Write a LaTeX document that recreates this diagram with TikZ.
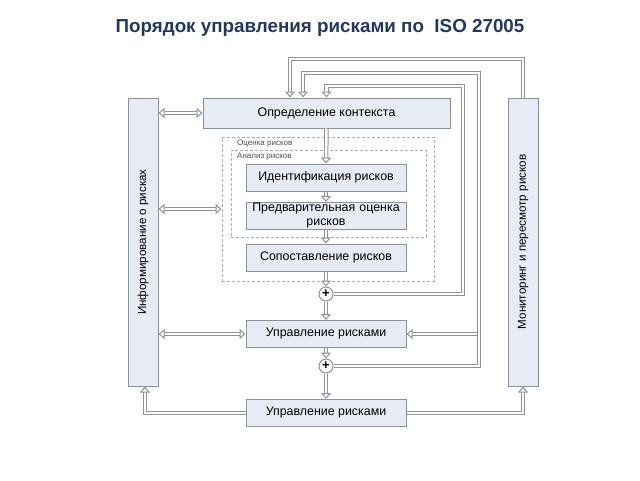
\documentclass[tikz,border=0pt]{standalone}
\usepackage{fontspec}
\setmainfont{Liberation Sans}
\usepackage{xcolor}
\usetikzlibrary{arrows.meta,positioning}

\definecolor{boxfill}{RGB}{231,235,244}
\definecolor{boxline}{RGB}{140,146,158}
\definecolor{titleblue}{RGB}{31,56,100}

\begin{document}
\begin{tikzpicture}[
        x=1pt, y=-1pt,
        font=\fontsize{12.4}{13}\selectfont,
        stage/.style={draw=boxline, fill=boxfill, line width=1pt, align=center, minimum width=160pt, minimum height=27pt, inner sep=1pt},
        side/.style={draw=boxline, fill=boxfill, line width=1pt, minimum width=30pt, minimum height=288pt, inner sep=0pt, font=\fontsize{11.6}{12}\selectfont},
        zone/.style={draw=boxline!75, line width=1pt, dashed, dash pattern=on 3pt off 2pt},
        zonelabel/.style={font=\fontsize{8}{9}\selectfont, text=black!70, anchor=west, inner sep=0pt},
        junction/.style={circle, draw=boxline, fill=white, line width=1pt, minimum size=14pt, inner sep=0pt, font=\bfseries\fontsize{13}{13}\selectfont},
        pipe/.style={draw=boxline, double=white, double distance=2.5pt, line width=1pt},
        harrow/.style={pipe, -{Triangle[open, fill=white, length=6pt, width=10pt]}},
        darrow/.style={pipe, {Triangle[open, fill=white, length=6pt, width=10pt]}-{Triangle[open, fill=white, length=6pt, width=10pt]}}
    ]
        \useasboundingbox (0,0) rectangle (640,480);

        \node[font=\bfseries\fontsize{18.8}{20}\selectfont, text=titleblue] (title) at (320,28) {Порядок управления рисками по\ \ ISO 27005};

        % side columns
        \node[side] (info) at (143,242) {\rotatebox{90}{Информирование о рисках}};
        \node[side] (monitor) at (523,242) {\rotatebox{90}{Мониторинг и пересмотр рисков}};

        % dashed zones
        \node[zone, minimum width=212pt, minimum height=144pt] (assess) at (328,209) {};
        \node[zone, minimum width=195pt, minimum height=87pt] (analysis) at (328.5,193.5) {};
        \node[zonelabel] (assesslbl) at (237,144) {Оценка рисков};
        \node[zonelabel] (analysislbl) at (237,157) {Анализ рисков};

        % main chain
        \node[stage, minimum width=247pt, minimum height=30pt] (context) at (326.5,113) {Определение контекста};
        \node[stage] (ident) at (326,177.5) {Идентификация рисков};
        \node[stage, text width=156pt] (prelim) at (326,216) {Предварительная оценка\\[1pt]рисков};
        \node[stage] (compare) at (326,257.5) {Сопоставление рисков};
        \node[junction] (plusA) at (326,294) {+};
        \node[stage] (treat) at (326,334) {Управление рисками};
        \node[junction] (plusB) at (326,366) {+};
        \node[stage] (accept) at (326,413) {Управление рисками};

        \coordinate (railA) at (463,86);
        \coordinate (railB) at (479,73);
        \coordinate (railC) at (523,59);

        \draw[harrow] (context) -- (ident);
        \draw[harrow] (ident) -- (prelim);
        \draw[harrow] (prelim) -- (compare);
        \draw[harrow] (compare) -- (plusA);
        \draw[harrow] (plusA) -- (treat);
        \draw[harrow] (treat) -- (plusB);
        \draw[harrow] (plusB) -- (accept);

        % feedback loops
        \draw[harrow] (railB |- treat.east) -- (treat.east);
        \draw[harrow] (plusA.east) -| (railA) -| (context.north);
        \draw[harrow] (plusB.east) -| (railB) -| ([xshift=-23.5pt]context.north);
        \draw[harrow] (monitor.north) |- ([xshift=-36.5pt]context.north |- railC) -- ([xshift=-36.5pt]context.north);

        % communication
        \draw[darrow] (info.east |- context.west) -- (context.west);
        \draw[darrow] (info.east |- assess.west) -- (assess.west);
        \draw[darrow] (info.east |- treat.west) -- (treat.west);

        % monitoring
        \draw[harrow] (accept.west) -| ([xshift=2pt]info.south);
        \draw[harrow] (accept.east) -| (monitor.south);
\end{tikzpicture}
\end{document}
